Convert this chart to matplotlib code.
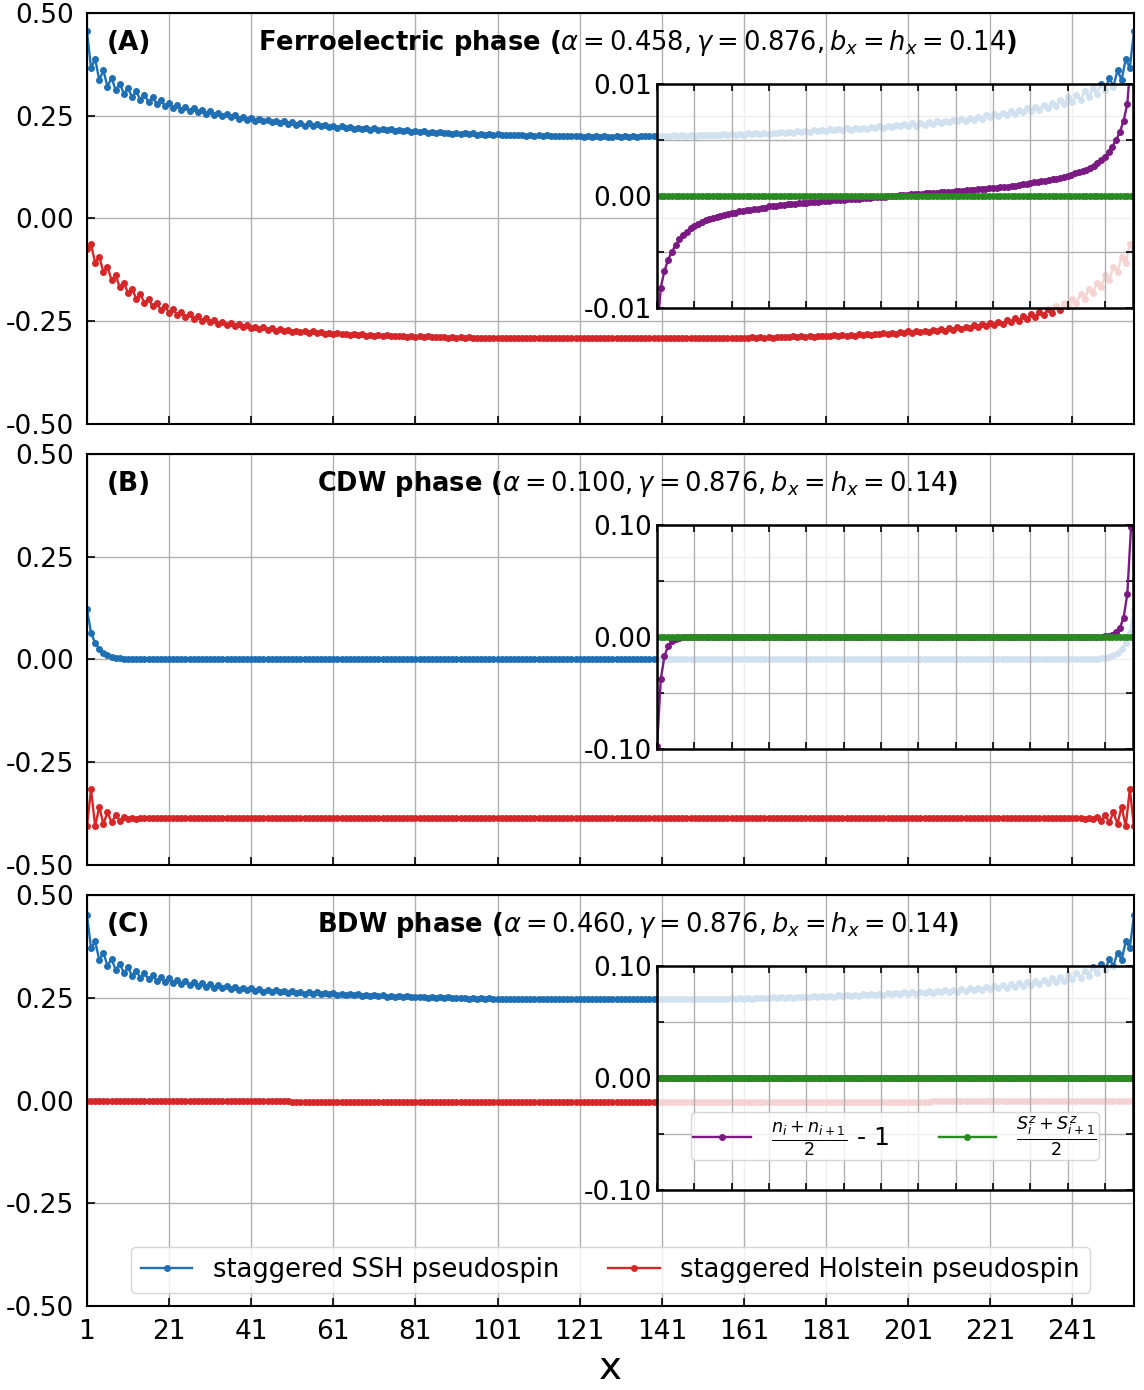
import matplotlib
matplotlib.use('Agg')

import matplotlib.pyplot as plt
import numpy as np
from matplotlib.ticker import FormatStrFormatter

plt.rcParams['axes.unicode_minus'] = False
plt.rcParams['font.size'] = 19
plt.rcParams['mathtext.fontset'] = 'dejavusans'

N = 256
sites = np.arange(1, N + 1)
bonds = np.arange(1, N + 1, 2)

# left half of each chain (sites 1..128); right half is the mirror image
ssh_A_half = [0.455, 0.366, 0.388, 0.337, 0.360, 0.321, 0.342, 0.312, 0.328, 0.303,
              0.317, 0.295, 0.309, 0.289, 0.301, 0.283, 0.295, 0.279, 0.288, 0.274,
              0.281, 0.269, 0.277, 0.265, 0.272, 0.262, 0.268, 0.258, 0.264, 0.254,
              0.261, 0.251, 0.257, 0.249, 0.254, 0.246, 0.251, 0.243, 0.248, 0.240,
              0.244, 0.238, 0.242, 0.236, 0.240, 0.234, 0.238, 0.232, 0.236, 0.230,
              0.234, 0.228, 0.232, 0.226, 0.231, 0.225, 0.229, 0.224, 0.228, 0.223,
              0.226, 0.221, 0.224, 0.220, 0.222, 0.218, 0.221, 0.217, 0.220, 0.216,
              0.219, 0.215, 0.218, 0.214, 0.217, 0.213, 0.215, 0.212, 0.214, 0.211,
              0.213, 0.210, 0.212, 0.209, 0.211, 0.208, 0.210, 0.207, 0.209, 0.206,
              0.208, 0.206, 0.208, 0.205, 0.207, 0.204, 0.206, 0.204, 0.206, 0.203,
              0.205, 0.203, 0.204, 0.202, 0.204, 0.202, 0.203, 0.201, 0.203, 0.201,
              0.202, 0.201, 0.202, 0.200, 0.201, 0.200, 0.201, 0.200, 0.201, 0.200,
              0.201, 0.199, 0.200, 0.199, 0.200, 0.199, 0.200, 0.199]
hol_A_half = [-0.075, -0.063, -0.108, -0.093, -0.130, -0.118, -0.150, -0.138, -0.168, -0.156,
              -0.182, -0.172, -0.195, -0.185, -0.205, -0.196, -0.214, -0.206, -0.222, -0.214,
              -0.229, -0.221, -0.235, -0.228, -0.240, -0.233, -0.245, -0.238, -0.249, -0.243,
              -0.253, -0.247, -0.256, -0.251, -0.259, -0.254, -0.262, -0.257, -0.265, -0.260,
              -0.267, -0.263, -0.269, -0.265, -0.271, -0.267, -0.273, -0.269, -0.274, -0.271,
              -0.276, -0.273, -0.277, -0.274, -0.278, -0.275, -0.279, -0.277, -0.280, -0.278,
              -0.281, -0.279, -0.282, -0.280, -0.283, -0.281, -0.284, -0.282, -0.285, -0.283,
              -0.285, -0.284, -0.286, -0.284, -0.287, -0.285, -0.287, -0.286, -0.288, -0.286,
              -0.288, -0.287, -0.289, -0.287, -0.289, -0.288, -0.289, -0.288, -0.290, -0.289,
              -0.290, -0.289, -0.290, -0.289, -0.291, -0.290, -0.291, -0.290, -0.291, -0.290,
              -0.291, -0.290, -0.291, -0.290, -0.291, -0.291, -0.292, -0.291, -0.292, -0.291,
              -0.292, -0.291, -0.292, -0.291, -0.292, -0.291, -0.292, -0.291, -0.292, -0.291,
              -0.292, -0.291, -0.292, -0.291, -0.292, -0.291, -0.292, -0.291]

ssh_B_half = [0.123, 0.065, 0.040, 0.026, 0.016, 0.010, 0.0065, 0.004, 0.0025, 0.0015,
              0.001, 0.0005] + [0.0] * 116
hol_B_half = [-0.406, -0.316, -0.406, -0.358, -0.400, -0.372, -0.396, -0.379, -0.392, -0.383,
              -0.388, -0.385, -0.387, -0.386] + [-0.386] * 114

ssh_C_half = [0.451, 0.371, 0.387, 0.342, 0.360, 0.328, 0.344, 0.318, 0.333, 0.310,
              0.324, 0.303, 0.316, 0.299, 0.310, 0.295, 0.305, 0.291, 0.301, 0.288,
              0.297, 0.286, 0.294, 0.283, 0.291, 0.281, 0.288, 0.279, 0.285, 0.277,
              0.283, 0.275, 0.281, 0.273, 0.279, 0.271, 0.277, 0.270, 0.275, 0.268,
              0.273, 0.266, 0.271, 0.265, 0.270, 0.264, 0.268, 0.263, 0.267, 0.262,
              0.266, 0.261, 0.265, 0.260, 0.264, 0.259, 0.263, 0.258, 0.262, 0.258,
              0.261, 0.257, 0.260, 0.256, 0.259, 0.256, 0.258, 0.255, 0.257, 0.254,
              0.256, 0.254, 0.256, 0.253, 0.255, 0.252, 0.254, 0.252, 0.254, 0.251,
              0.253, 0.251, 0.252, 0.250, 0.252, 0.250, 0.251, 0.249, 0.251, 0.249,
              0.250, 0.249, 0.250, 0.248, 0.249, 0.248, 0.249, 0.248, 0.249, 0.247,
              0.248, 0.247, 0.248, 0.247, 0.248, 0.247, 0.247, 0.246, 0.247, 0.246,
              0.247, 0.246, 0.247, 0.246, 0.247, 0.246, 0.247, 0.246, 0.247, 0.246,
              0.247, 0.246, 0.247, 0.246, 0.247, 0.246, 0.247, 0.246]
hol_C_half = ([0.000, -0.0005, 0.000, -0.0005, -0.0005, -0.0008, -0.0008, -0.001, -0.001, -0.001]
              + [-0.001] * 10 + [-0.0015] * 15 + [-0.002] * 15 + [-0.0025] * 15
              + [-0.003] * 15 + [-0.0035] * 15 + [-0.004] * 15 + [-0.0045] * 18)

# bond quantities on odd bonds 1,3,...,127 (antisymmetric / symmetric about the centre)
dens_A_half = [-0.0125, -0.0082, -0.0067, -0.0057, -0.0050, -0.0044, -0.0039, -0.0035,
               -0.0032, -0.0029, -0.0027, -0.0025, -0.0023, -0.0022, -0.0021, -0.0020,
               -0.0019, -0.0018, -0.0017, -0.0016, -0.00155, -0.0015, -0.0014, -0.00135,
               -0.0013, -0.00125, -0.0012, -0.00115, -0.0011, -0.00105, -0.00095, -0.0009,
               -0.00087, -0.00083, -0.0008, -0.00076, -0.00073, -0.0007, -0.00066, -0.00063,
               -0.0006, -0.00057, -0.00054, -0.00051, -0.00048, -0.00046, -0.00043, -0.0004,
               -0.00038, -0.00036, -0.00034, -0.00031, -0.00029, -0.00026, -0.00024, -0.00021,
               -0.00019, -0.00016, -0.00014, -0.00012, -0.0001, -0.00007, -0.00005, -0.00002]
dens_B_half = [-0.098, -0.038, -0.017, -0.008, -0.004, -0.002, -0.001, -0.0005, -0.0002] + [0.0] * 55
dens_C_half = [0.0] * 64
spin_half = [0.0] * 64

letters = ['(A)', '(B)', '(C)']
titles = [r'Ferroelectric phase ($\alpha=0.458, \gamma=0.876, b_x=h_x=0.14$)',
          r'CDW phase ($\alpha=0.100, \gamma=0.876, b_x=h_x=0.14$)',
          r'BDW phase ($\alpha=0.460, \gamma=0.876, b_x=h_x=0.14$)']
inset_lims = [0.01, 0.10, 0.10]
inset_labels = [['-0.01', '', '0.00', '', '0.01'], ['-0.10', '', '0.00', '', '0.10'],
                ['-0.10', '', '0.00', '', '0.10']]


def mirror(half):
    return np.array(half + half[::-1])


def antimirror(half):
    return np.array(half + [-v for v in half[::-1]])


ssh = [mirror(ssh_A_half), mirror(ssh_B_half), mirror(ssh_C_half)]
hol = [mirror(hol_A_half), mirror(hol_B_half), mirror(hol_C_half)]
dens = [antimirror(dens_A_half), antimirror(dens_B_half), antimirror(dens_C_half)]
spin = [mirror(spin_half), mirror(spin_half), mirror(spin_half)]

blue = '#1f6fb4'
red = '#d62728'
purple = '#7a1a82'
green = '#2a8a22'

fig = plt.figure(figsize=(11.44, 13.9), dpi=100)
bottoms = [0.6950, 0.3777, 0.0604]
xticks = list(range(1, 242, 20))

for k in range(3):
    ax = fig.add_axes([0.0760, bottoms[k], 0.9152, 0.2957])
    ax.plot(sites, ssh[k], '-o', color=blue, ms=4, lw=1.7, label='staggered SSH pseudospin')
    ax.plot(sites, hol[k], '-o', color=red, ms=4, lw=1.7, label='staggered Holstein pseudospin')
    ax.set_xlim(1, N)
    ax.set_ylim(-0.5, 0.5)
    ax.set_xticks(xticks)
    ax.set_yticks([-0.5, -0.25, 0, 0.25, 0.5])
    ax.yaxis.set_major_formatter(FormatStrFormatter('%.2f'))
    ax.grid(True, color='#b0b0b0', lw=1)
    ax.tick_params(direction='in', length=6, width=1.2, labelsize=19, pad=9)
    for s in ax.spines.values():
        s.set_linewidth(1.5)
    if k < 2:
        ax.set_xticklabels([])
    ax.text(0.040, 0.928, letters[k], transform=ax.transAxes, ha='center', va='center',
            fontsize=19, fontweight='bold')
    ax.text(0.526, 0.928, titles[k], transform=ax.transAxes, ha='center', va='center',
            fontsize=18.5, fontweight='bold')

    ins = ax.inset_axes([0.5445, 0.283, 0.4545, 0.544])
    ins.patch.set_facecolor('white')
    ins.patch.set_alpha(0.8)
    ins.plot(bonds, dens[k], '-o', color=purple, ms=4, lw=1.7, label=r'$\frac{n_i+n_{i+1}}{2}$ - 1')
    ins.plot(bonds, spin[k], '-o', color=green, ms=4, lw=1.7, label=r'$\frac{S^z_i+S^z_{i+1}}{2}$')
    lim = inset_lims[k]
    ins.set_xlim(1, N)
    ins.set_ylim(-lim, lim)
    ins.set_xticks(xticks)
    ins.set_xticklabels([])
    ins.set_yticks([-lim, -lim / 2, 0, lim / 2, lim])
    ins.set_yticklabels(inset_labels[k])
    ins.grid(True, color='#b0b0b0', lw=1)
    ins.tick_params(direction='in', top=True, right=True, length=5, width=1.2, labelsize=19)
    for s in ins.spines.values():
        s.set_linewidth(1.8)

    if k == 2:
        ins.legend(loc='lower center', bbox_to_anchor=(0.5, 0.075), ncol=2, fontsize=18,
                   handlelength=2.3, columnspacing=2.0, borderpad=0.1)
        ax.legend(loc='lower center', ncol=2, fontsize=18.5, handlelength=2.0, columnspacing=1.9)
        ax.set_xlabel('x', fontsize=28, labelpad=3)

out_png = 'out.png'
plt.savefig(out_png, dpi=100)
